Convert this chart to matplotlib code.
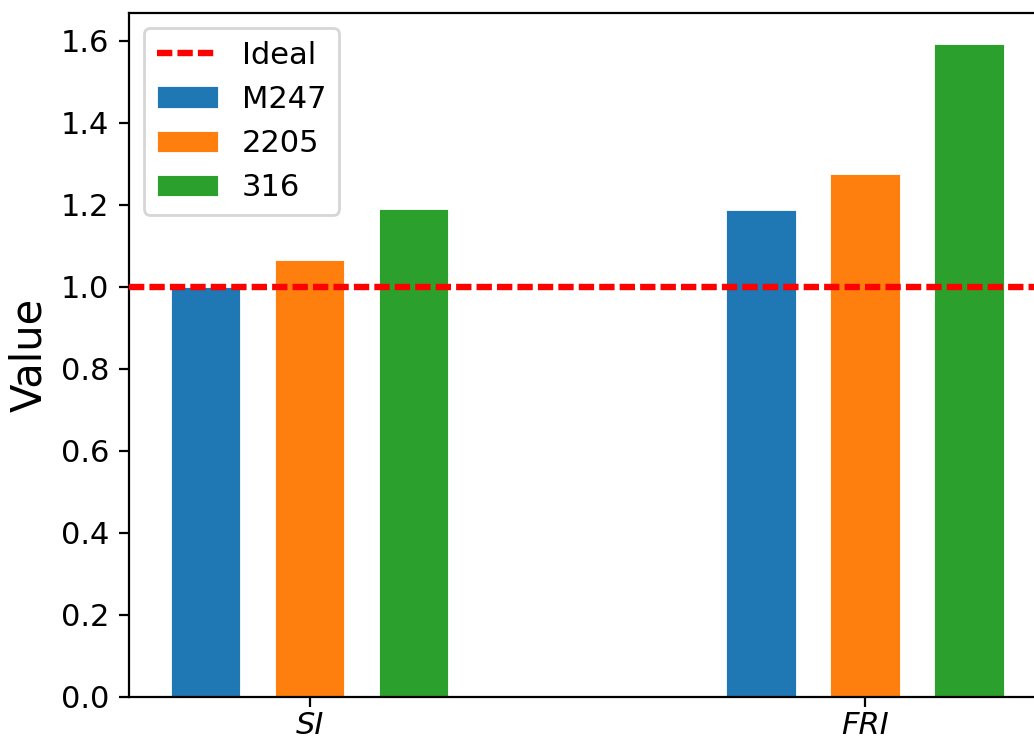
import matplotlib
matplotlib.use("Agg")
import matplotlib.pyplot as plt
import numpy as np

categories = ["SI", "FRI"]
series_names = ["M247", "2205", "316"]
m247 = [1.0, 1.188]
d2205 = [1.065, 1.275]
s316 = [1.191, 1.592]
ideal_value = 1.0
colors = ["#1f77b4", "#ff7f0e", "#2ca02c"]

DPI = 200
W, H = 1034, 741
fig = plt.figure(figsize=(W / DPI, H / DPI), dpi=DPI)

left_px, right_px, top_px, bottom_px = 129, 1045.5, 13, 697
ax = fig.add_axes([left_px / W, (H - bottom_px) / H,
                   (right_px - left_px) / W, (bottom_px - top_px) / H])

x = np.arange(len(categories)) * 2.0
width = 0.25
step = 0.375

ax.axhline(ideal_value, color="red", linestyle=(0, (2.4, 0.8)), linewidth=2.3,
           label="Ideal", zorder=3)
for i, (name, vals) in enumerate(zip(series_names, [m247, d2205, s316])):
    ax.bar(x + (i - 1) * step, vals, width, color=colors[i], label=name,
           edgecolor="white", linewidth=0.3, zorder=2)

ax.set_xlim(-0.65, 2.65)
ax.set_ylim(0, 1.668)
ax.set_xticks(x)
ax.set_xticklabels(categories, fontsize=11, style="italic")
ax.tick_params(axis="x", pad=1.5)
ax.set_yticks(np.arange(0, 1.61, 0.2))
ax.tick_params(axis="y", labelsize=11)
ax.set_ylabel("Value", fontsize=15)
ax.legend(loc="upper left", fontsize=11)

fig.savefig("out.png", dpi=DPI)
